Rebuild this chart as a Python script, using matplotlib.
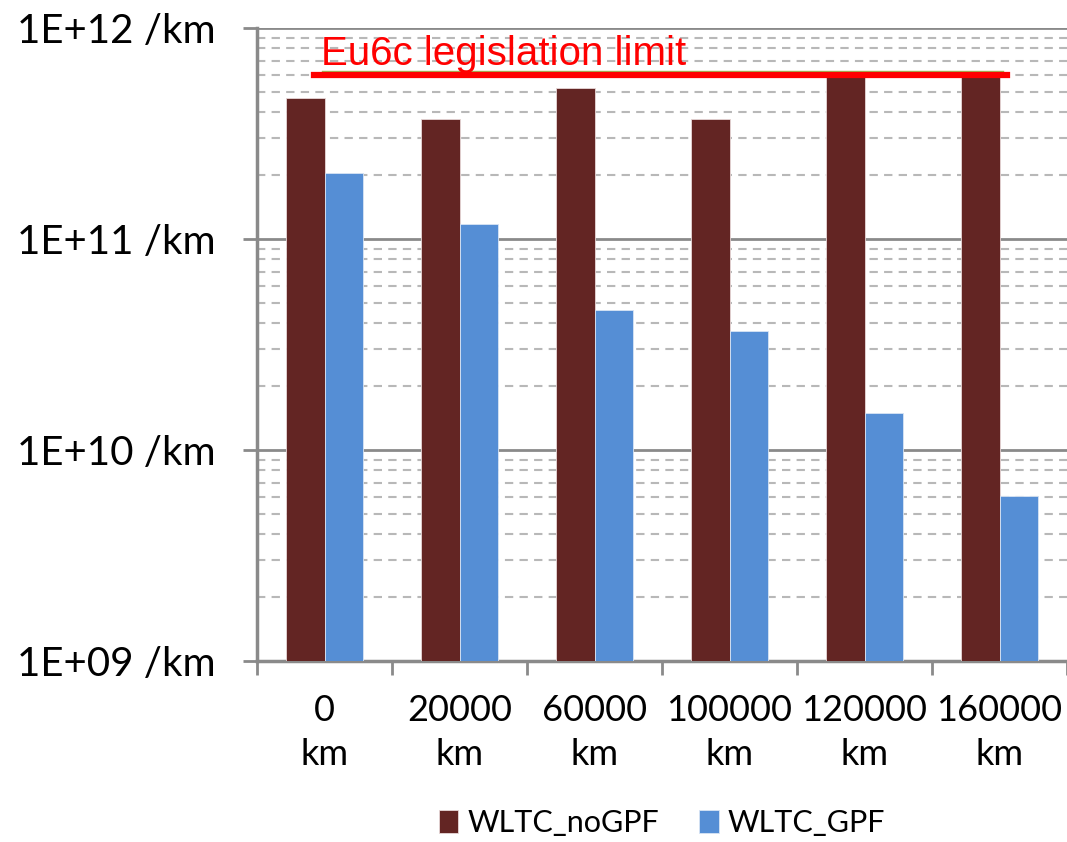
import matplotlib
matplotlib.use("Agg")
import matplotlib.pyplot as plt
import matplotlib.transforms as mtransforms
from matplotlib.ticker import LogLocator, NullFormatter, FixedLocator
import numpy as np

categories = ["0\nkm", "20000\nkm", "60000\nkm", "100000\nkm", "120000\nkm", "160000\nkm"]
no_gpf = [4.65e11, 3.7e11, 5.2e11, 3.72e11, 6.0e11, 6.0e11]
gpf = [2.05e11, 1.18e11, 4.6e10, 3.65e10, 1.5e10, 6.05e9]
limit_value = 6e11
limit_label = "Eu6c legislation limit"
series_names = ["WLTC_noGPF", "WLTC_GPF"]
ytick_vals = [1e9, 1e10, 1e11, 1e12]
ytick_labels = ["1E+09 /km", "1E+10 /km", "1E+11 /km", "1E+12 /km"]

c_no = "#632523"
c_gpf = "#558ED5"
grid_c = "#8a8a8a"
dash_c = "#b8b8b8"

lab_font = ["Lato", "DejaVu Sans"]

fig = plt.figure(figsize=(10.67, 8.42), dpi=100)
ax = fig.add_axes([257/1067, 1-661/842, 1-257/1067, (661-28)/842])

x = np.arange(len(categories))
w = 0.285
ax.bar(x - w/2, no_gpf, width=w, color=c_no, edgecolor="#e8d8d8", linewidth=0.6,
       label=series_names[0], zorder=3)
ax.bar(x + w/2, gpf, width=w, color=c_gpf, edgecolor="#d8e4f4", linewidth=0.6,
       label=series_names[1], zorder=3)

ax.set_yscale("log")
ax.set_ylim(1e9, 1e12)
ax.set_xlim(-0.5, len(categories) - 0.5)

ax.yaxis.set_major_locator(FixedLocator(ytick_vals))
ax.set_yticklabels(ytick_labels, fontsize=29, family=lab_font)
ax.yaxis.set_minor_locator(LogLocator(base=10, subs=np.arange(2, 10)))
ax.yaxis.set_minor_formatter(NullFormatter())
ax.tick_params(axis="y", which="major", length=10, width=2, color=grid_c, pad=20)
ax.tick_params(axis="y", which="minor", length=0)

ax.grid(True, axis="y", which="major", color=grid_c, linewidth=2, zorder=1)
ax.grid(True, axis="y", which="minor", color=dash_c, linewidth=1.5,
        linestyle=(0, (4, 3)), zorder=1)

ax.set_xticks(np.arange(-0.5, len(categories)), minor=False)
ax.set_xticklabels([])
ax.set_xticks(x, minor=True)
ax.set_xticklabels(categories, minor=True, fontsize=26, family=lab_font, linespacing=1.4)
ax.tick_params(axis="x", which="major", length=10, width=2, color=grid_c)
ax.tick_params(axis="x", which="minor", length=0, pad=24)

for s in ["top", "right"]:
    ax.spines[s].set_visible(False)
for s in ["left", "bottom"]:
    ax.spines[s].set_color(grid_c)
    ax.spines[s].set_linewidth(2.5)

# limit line
ax.axhline(limit_value, xmin=57/810, xmax=750/810, color="#ff0000", linewidth=4.5, zorder=5)
off = mtransforms.offset_copy(ax.transData, fig=fig, x=0, y=3.5, units="dots")
ax.plot([-0.5 + 65/135, -0.5 + 746/135], [limit_value, limit_value], color="#9bbb59",
        linewidth=1, transform=off, zorder=4)
ax.annotate(limit_label, xy=(-0.5 + 64/135, limit_value), xytext=(0, 7),
            textcoords="offset points", color="#ff0000", fontsize=29,
            family="Liberation Sans", va="baseline", ha="left", zorder=6)

fig.legend(loc="center", bbox_to_anchor=(662/1067, 1-823/842), ncol=2, frameon=False,
           prop={"family": lab_font, "size": 22}, handlelength=0.65, handleheight=0.75,
           handletextpad=0.3, columnspacing=1.3)

fig.savefig("out.png", dpi=100)
